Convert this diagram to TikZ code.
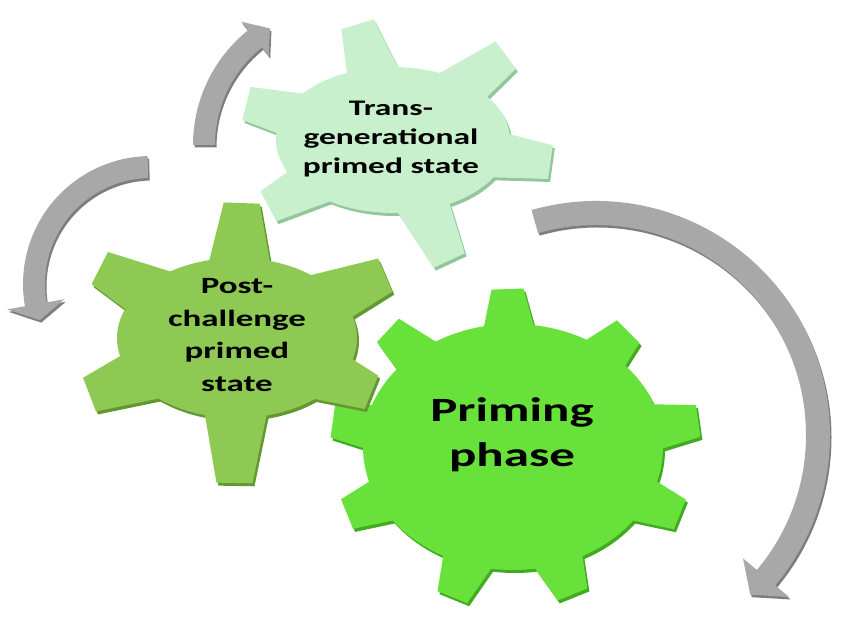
\documentclass[tikz,border=0pt]{standalone}
\usepackage{fontspec}
\setmainfont{Carlito}
\usepackage{tikz}

\definecolor{primface}{RGB}{104,226,59}
\definecolor{primedge}{RGB}{66,170,34}
\definecolor{postface}{RGB}{142,201,84}
\definecolor{postedge}{RGB}{98,152,50}
\definecolor{transface}{RGB}{200,240,205}
\definecolor{transedge}{RGB}{148,198,156}
\definecolor{arrowface}{RGB}{168,168,168}
\definecolor{arrowedge}{RGB}{125,125,125}

\newcommand{\gear}[8]{%
  \begin{scope}[shift={(2,-3)}]
    \fill[#2] (0,0) ellipse[x radius=#3, y radius=#4];
    \foreach \ta/\tr in {#8}
      \fill[#2, rotate=\ta] (#5,-#6) -- (\tr,-#7) -- (\tr,#7) -- (#5,#6) -- cycle;
  \end{scope}
  \fill[#1] (0,0) ellipse[x radius=#3, y radius=#4];
  \foreach \ta/\tr in {#8}
    \fill[#1, rotate=\ta] (#5,-#6) -- (\tr,-#7) -- (\tr,#7) -- (#5,#6) -- cycle;
}

\newcommand{\cyclearrow}[6]{%
  \pgfmathsetmacro{\rout}{#4+#5}
  \pgfmathsetmacro{\rin}{#4-#5}
  \pgfmathsetmacro{\hout}{#4+#6}
  \pgfmathsetmacro{\hin}{#4-#6}
  \foreach \col/\off in {arrowedge/{(1.5,-2.5)}, arrowface/{(0,0)}}
    \fill[\col, shift=\off] (#1:\rout) arc[start angle=#1, end angle=#2, radius=\rout]
      -- (#2:\hout) -- (#3:#4) -- (#2:\hin) -- (#2:\rin)
      arc[start angle=#2, end angle=#1, radius=\rin] -- cycle;
}

\begin{document}
\begin{tikzpicture}[x=1pt, y=1pt,
    gearlabel/.style={align=center, xscale=1.5, inner sep=0pt, text=black}]
  \fill[white] (0,0) rectangle (844,621);
  \useasboundingbox (0,0) rectangle (844,621);

  \begin{scope}[shift={(596,186)}]
    \cyclearrow{106}{-40}{-46}{222}{12}{30}
  \end{scope}
  \begin{scope}[shift={(340,476)}]
    \cyclearrow{180}{128.7}{121}{136}{11}{22}
  \end{scope}
  \begin{scope}[shift={(151,337)}]
    \cyclearrow{91.5}{190}{198}{117}{11}{29}
  \end{scope}

  \coordinate (transc) at (393,481);
  \coordinate (primc) at (513,174);
  \coordinate (postc) at (237,283);

  \begin{scope}[shift={(transc)}]
    \gear{transface}{transedge}{117}{73}{50}{29}{17}{107/121, 37/141, -8/159, -65/133, -152/141, 166/151}
  \end{scope}
  \begin{scope}[shift={(primc)}]
    \gear{primface}{primedge}{150}{123}{100}{30}{16}{92/158, 45/163, 8/187, -22/180, -68/159, -112/162, -158/179, 172/182, 137/171}
  \end{scope}
  \begin{scope}[shift={(postc)}]
    \gear{postface}{postedge}{120}{80}{55}{35}{18}{88/135, 23/161, -22/145, -91/145, -159/158, 153/154}
  \end{scope}

  \node[gearlabel, font=\fontsize{22.3}{29}\selectfont\bfseries] (trans) at (391,482) {Trans-\\generational\\primed state};
  \node[gearlabel, font=\fontsize{34}{45}\selectfont\bfseries] (prim) at (512,186) {Priming\\phase};
  \node[gearlabel, font=\fontsize{23.3}{32.7}\selectfont\bfseries] (post) at (237,286) {Post-\\challenge\\primed\\state};
\end{tikzpicture}
\end{document}
